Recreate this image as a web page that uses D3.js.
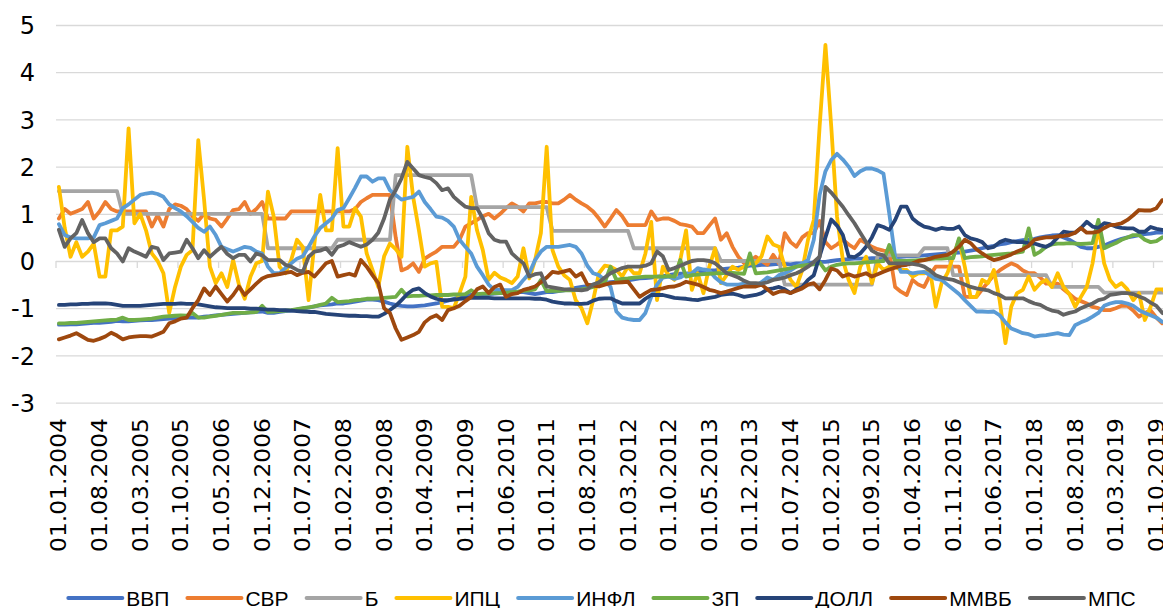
<!DOCTYPE html>
<html lang="ru">
<head>
  <meta charset="UTF-8" />
  <title>Индикаторы</title>
  <script src="https://d3js.org/d3.v7.min.js"></script>
  <style>
    body { margin: 0; background: #fff; }
    svg { display: block; }
  </style>
</head>
<body>
  <svg id="chart" width="1163" height="608"></svg>

  <script>
    // monthly categories 01.01.2004 .. 01.12.2019
    const months = d3.timeMonth.range(new Date(2004, 0, 1), new Date(2020, 0, 1));
    const fmt = d3.timeFormat("%d.%m.%Y");
    const cats = months.map(fmt);
    const labelCats = cats.filter((d, i) => i % 7 === 0);
    const yTicks = [-3, -2, -1, 0, 1, 2, 3, 4, 5];

    const seriesNames = ["ВВП", "СВР", "Б", "ИПЦ", "ИНФЛ", "ЗП", "ДОЛЛ", "ММВБ", "МПС"];
    const seriesColors = ["#4472c4", "#ed7d31", "#a5a5a5", "#ffc000", "#5b9bd5", "#70ad47", "#264478", "#9e480e", "#636363"];

    const vvp = [
      -1.35,-1.35,-1.34,-1.34,-1.33,-1.32,-1.31,-1.31,-1.3,-1.29,-1.27,-1.28,
      -1.28,-1.27,-1.26,-1.25,-1.25,-1.24,-1.23,-1.22,-1.22,-1.21,-1.2,-1.2,
      -1.2,-1.18,-1.17,-1.15,-1.14,-1.13,-1.12,-1.11,-1.1,-1.09,-1.08,-1.07,
      -1.1,-1.1,-1.08,-1.06,-1.05,-1.03,-1.01,-0.99,-0.96,-0.94,-0.93,-0.92,
      -0.9,-0.9,-0.88,-0.86,-0.84,-0.82,-0.82,-0.83,-0.86,-0.9,-0.93,-0.95,
      -0.96,-0.96,-0.95,-0.94,-0.92,-0.9,-0.87,-0.84,-0.8,-0.77,-0.74,-0.72,
      -0.72,-0.7,-0.7,-0.69,-0.68,-0.67,-0.66,-0.66,-0.66,-0.68,-0.7,-0.68,
      -0.66,-0.66,-0.64,-0.62,-0.6,-0.57,-0.55,-0.53,-0.5,-0.49,-0.47,-0.45,
      -0.44,-0.42,-0.41,-0.39,-0.37,-0.36,-0.35,-0.33,-0.32,-0.3,-0.28,-0.27,
      -0.27,-0.25,-0.24,-0.22,-0.2,-0.2,-0.18,-0.16,-0.15,-0.14,-0.12,-0.1,
      -0.1,-0.08,-0.08,-0.07,-0.06,-0.06,-0.07,-0.05,-0.05,-0.04,-0.03,-0.02,
      -0.02,0.0,0.02,0.03,0.04,0.05,0.05,0.05,0.06,0.06,0.07,0.08,
      0.08,0.09,0.1,0.1,0.11,0.12,0.13,0.14,0.15,0.16,0.17,0.18,
      0.2,0.22,0.24,0.27,0.3,0.32,0.35,0.37,0.4,0.42,0.44,0.45,
      0.47,0.5,0.52,0.54,0.55,0.5,0.45,0.38,0.3,0.27,0.27,0.3,
      0.33,0.38,0.43,0.47,0.5,0.52,0.55,0.57,0.58,0.6,0.6,0.62
    ];
    const svr = [
      0.9,1.1,1.0,1.05,1.1,1.25,0.9,1.05,1.25,1.1,1.05,1.05,
      1.05,1.05,1.05,1.05,0.73,0.97,0.73,1.1,1.2,1.17,1.1,0.95,
      0.85,1.0,0.9,0.87,0.73,0.9,1.08,1.1,1.25,1.0,1.1,1.25,
      0.9,0.9,0.9,0.9,1.05,1.05,1.05,1.05,1.05,1.05,1.05,1.05,
      1.05,1.05,1.05,1.1,1.25,1.33,1.4,1.4,1.4,1.4,0.5,-0.2,
      -0.15,-0.05,-0.23,0.05,0.13,0.2,0.3,0.3,0.3,0.45,0.73,0.8,
      0.87,0.95,1.0,0.9,1.0,1.12,1.22,1.15,1.05,1.22,1.22,1.25,
      1.25,1.22,1.22,1.3,1.4,1.3,1.22,1.15,1.05,0.9,0.73,0.9,
      1.08,0.95,0.76,0.76,0.76,0.76,1.05,0.87,0.9,0.9,0.85,0.78,
      0.76,0.73,0.59,0.59,0.75,0.9,0.45,0.59,0.3,0.09,-0.05,0.0,
      0.09,0.0,-0.08,0.13,-0.05,0.59,0.4,0.3,0.5,0.59,0.59,0.85,
      0.4,0.27,0.35,0.45,0.35,0.27,0.45,0.38,0.3,0.25,0.22,0.2,
      -0.55,-0.65,-0.72,-0.4,-0.5,-0.55,-0.3,-0.12,-0.12,-0.12,-0.12,-0.12,
      -0.76,-0.76,-0.76,-0.6,-0.45,-0.3,-0.2,-0.12,-0.05,-0.1,-0.2,-0.26,
      -0.26,-0.35,-0.48,-0.48,-0.48,-0.6,-0.7,-0.8,-0.85,-0.9,-0.97,-1.0,
      -1.04,-1.04,-1.0,-0.95,-0.95,-1.05,-1.18,-1.1,-1.05,-1.2,-1.32,-1.3
    ];
    const b = [
      1.48,1.48,1.48,1.48,1.48,1.48,1.48,1.48,1.48,1.48,1.48,1.0,
      1.0,1.0,1.0,1.0,1.0,1.0,1.0,1.0,1.0,1.0,1.0,1.0,
      1.0,1.0,1.0,1.0,1.0,1.0,1.0,1.0,1.0,1.0,1.0,1.0,
      0.27,0.27,0.27,0.27,0.27,0.27,0.27,0.27,0.27,0.27,0.27,0.27,
      0.45,0.45,0.45,0.45,0.45,0.45,0.45,0.45,0.45,0.45,1.82,1.82,
      1.82,1.82,1.82,1.82,1.82,1.82,1.82,1.82,1.82,1.82,1.82,1.82,
      1.14,1.14,1.14,1.14,1.14,1.14,1.14,1.14,1.14,1.14,1.14,1.14,
      1.14,0.64,0.64,0.64,0.64,0.64,0.64,0.64,0.64,0.64,0.64,0.64,
      0.64,0.64,0.64,0.27,0.27,0.27,0.27,0.27,0.27,0.27,0.27,0.27,
      0.27,0.27,0.27,0.27,0.27,0.27,0.0,0.0,0.0,0.0,0.0,0.0,
      0.0,0.0,0.0,0.0,0.0,-0.5,-0.5,-0.5,-0.5,-0.5,-0.5,-0.5,
      -0.5,-0.5,-0.5,-0.5,-0.5,-0.5,-0.5,-0.5,-0.5,0.12,0.12,0.12,
      0.12,0.12,0.12,0.12,0.12,0.27,0.27,0.27,0.27,0.27,-0.3,-0.3,
      -0.3,-0.3,-0.3,-0.3,-0.3,-0.3,-0.3,-0.3,-0.3,-0.3,-0.3,-0.3,
      -0.3,-0.3,-0.3,-0.55,-0.55,-0.55,-0.55,-0.55,-0.55,-0.55,-0.55,-0.55,
      -0.67,-0.67,-0.67,-0.67,-0.67,-0.67,-0.67,-0.67,-0.67,-0.67,-0.67,-0.67
    ];
    const ipc = [
      1.57,0.7,0.09,0.4,0.09,0.2,0.37,-0.33,-0.33,0.65,0.65,0.73,
      2.81,0.8,1.0,0.65,0.16,0.0,-0.26,-1.1,-0.55,-0.12,0.13,0.23,
      2.56,1.3,-0.12,-0.47,-0.26,-0.55,0.02,-0.5,-0.8,-0.33,-0.05,0.0,
      1.47,0.94,-0.12,-0.26,0.02,0.45,0.3,-0.83,0.37,1.4,0.65,0.65,
      2.39,0.73,0.73,1.12,0.94,0.16,-0.19,-0.55,0.1,0.37,0.25,0.09,
      2.42,1.36,0.65,-0.12,-0.05,-0.02,-0.97,-0.97,-1.0,-0.68,-0.33,1.36,
      0.65,0.23,-0.4,-0.25,-0.35,-0.4,-0.47,-0.33,0.27,-0.37,0.02,0.59,
      2.42,0.23,-0.12,-0.3,-0.4,-0.83,-1.0,-1.32,-0.83,-0.26,-0.1,-0.12,
      -0.19,-0.33,-0.12,-0.26,-0.26,0.16,0.83,-0.83,-0.12,-0.3,-0.4,0.02,
      0.65,-0.61,-0.26,-0.68,-0.12,0.27,-0.47,-0.3,-0.12,-0.19,-0.12,-0.05,
      -0.05,0.1,0.52,0.35,0.3,-0.12,-0.4,-0.55,-0.2,0.45,0.87,2.85,
      4.58,2.85,0.94,0.02,-0.4,-0.68,-0.12,0.09,-0.47,-0.05,-0.19,-0.12,
      -0.12,-0.19,-0.19,-0.33,-0.26,-0.26,-0.19,-0.97,-0.47,-0.26,0.1,0.45,
      -0.12,-0.76,-0.76,-0.4,-0.47,-0.19,-0.83,-1.74,-0.97,-0.68,-0.61,-0.33,
      -0.61,-0.47,-0.4,-0.55,-0.26,-0.55,-0.7,-0.97,-0.76,-0.55,-0.05,0.73,
      -0.05,-0.4,-0.55,-0.47,-0.6,-0.83,-0.68,-1.25,-0.97,-0.6,-0.6,-0.7
    ];
    const infl = [
      0.78,0.55,0.5,0.48,0.48,0.48,0.5,0.76,0.8,0.85,0.9,1.12,
      1.2,1.3,1.4,1.43,1.45,1.42,1.36,1.2,1.12,1.05,0.95,0.83,
      0.7,0.62,0.73,0.55,0.3,0.25,0.2,0.25,0.3,0.28,0.2,0.16,
      -0.12,-0.26,-0.26,-0.15,-0.05,0.05,0.1,0.3,0.52,0.7,0.8,0.9,
      1.08,1.12,1.33,1.55,1.79,1.79,1.68,1.75,1.75,1.5,1.4,1.3,
      1.33,1.36,1.47,1.25,1.1,0.94,0.92,0.85,0.73,0.45,0.3,0.16,
      -0.12,-0.3,-0.5,-0.61,-0.61,-0.62,-0.62,-0.55,-0.4,-0.26,0.02,0.2,
      0.3,0.3,0.3,0.32,0.34,0.3,0.16,-0.1,-0.26,-0.3,-0.4,-0.55,
      -1.07,-1.2,-1.23,-1.25,-1.25,-1.1,-0.76,-0.5,-0.35,-0.33,-0.38,-0.35,
      -0.28,-0.26,-0.15,-0.18,-0.2,-0.35,-0.45,-0.5,-0.5,-0.5,-0.48,-0.48,
      -0.52,-0.45,-0.35,-0.4,-0.3,-0.26,-0.2,-0.12,-0.05,0.02,0.45,1.4,
      1.9,2.14,2.27,2.15,2.0,1.8,1.9,1.96,1.96,1.92,1.85,1.0,
      0.09,-0.23,-0.23,-0.26,-0.24,-0.23,-0.3,-0.38,-0.4,-0.5,-0.6,-0.7,
      -0.83,-0.95,-1.07,-1.07,-1.08,-1.07,-1.15,-1.3,-1.43,-1.48,-1.53,-1.55,
      -1.6,-1.58,-1.57,-1.55,-1.53,-1.56,-1.57,-1.36,-1.3,-1.25,-1.18,-1.1,
      -0.95,-0.9,-0.87,-0.87,-0.9,-0.95,-1.04,-1.1,-1.15,-1.2,-1.29,-1.3
    ];
    const zp = [
      -1.32,-1.32,-1.31,-1.31,-1.3,-1.29,-1.28,-1.27,-1.26,-1.25,-1.24,-1.2,
      -1.25,-1.25,-1.24,-1.23,-1.22,-1.2,-1.18,-1.17,-1.16,-1.15,-1.16,-1.1,
      -1.2,-1.2,-1.18,-1.16,-1.14,-1.12,-1.1,-1.1,-1.1,-1.09,-1.08,-0.95,
      -1.08,-1.07,-1.06,-1.05,-1.04,-1.02,-1.0,-0.98,-0.96,-0.93,-0.9,-0.78,
      -0.87,-0.86,-0.85,-0.83,-0.82,-0.8,-0.8,-0.79,-0.78,-0.77,-0.76,-0.61,
      -0.75,-0.74,-0.74,-0.73,-0.73,-0.72,-0.72,-0.72,-0.71,-0.71,-0.7,-0.62,
      -0.7,-0.69,-0.69,-0.68,-0.68,-0.67,-0.66,-0.65,-0.63,-0.62,-0.6,-0.4,
      -0.64,-0.63,-0.63,-0.62,-0.62,-0.61,-0.6,-0.58,-0.55,-0.5,-0.45,-0.12,
      -0.4,-0.38,-0.37,-0.35,-0.34,-0.33,-0.33,-0.33,-0.33,-0.32,-0.33,0.02,
      -0.33,-0.3,-0.29,-0.28,-0.27,-0.26,-0.26,-0.25,-0.25,-0.26,-0.27,0.16,
      -0.26,-0.25,-0.24,-0.22,-0.2,-0.18,-0.15,-0.12,-0.1,-0.08,-0.07,-0.03,
      -0.2,-0.12,-0.08,-0.06,-0.05,-0.05,-0.04,-0.03,-0.02,-0.01,0.0,0.34,
      0.0,0.0,0.0,0.01,0.02,0.03,0.04,0.05,0.05,0.06,0.06,0.48,
      0.06,0.08,0.09,0.1,0.12,0.13,0.14,0.15,0.16,0.18,0.2,0.69,
      0.13,0.2,0.3,0.35,0.37,0.37,0.38,0.37,0.36,0.37,0.38,0.87,
      0.27,0.33,0.38,0.45,0.5,0.55,0.55,0.45,0.4,0.42,0.5,0.52
    ];
    const doll = [
      -0.93,-0.93,-0.92,-0.92,-0.91,-0.91,-0.9,-0.9,-0.9,-0.91,-0.93,-0.95,
      -0.95,-0.95,-0.95,-0.94,-0.93,-0.92,-0.91,-0.91,-0.91,-0.9,-0.91,-0.91,
      -0.92,-0.94,-0.96,-0.98,-0.99,-1.0,-1.0,-1.0,-1.0,-1.01,-1.01,-1.02,
      -1.03,-1.03,-1.04,-1.04,-1.05,-1.06,-1.07,-1.08,-1.08,-1.1,-1.12,-1.13,
      -1.14,-1.15,-1.16,-1.16,-1.17,-1.17,-1.18,-1.18,-1.12,-1.04,-0.95,-0.83,
      -0.7,-0.61,-0.58,-0.68,-0.75,-0.8,-0.83,-0.83,-0.82,-0.8,-0.79,-0.78,
      -0.78,-0.78,-0.78,-0.79,-0.79,-0.79,-0.79,-0.79,-0.79,-0.79,-0.8,-0.8,
      -0.82,-0.86,-0.88,-0.9,-0.9,-0.91,-0.91,-0.9,-0.84,-0.8,-0.79,-0.79,
      -0.85,-0.9,-0.9,-0.9,-0.9,-0.8,-0.72,-0.72,-0.72,-0.75,-0.78,-0.79,
      -0.8,-0.82,-0.83,-0.8,-0.78,-0.76,-0.72,-0.7,-0.69,-0.72,-0.76,-0.74,
      -0.72,-0.68,-0.6,-0.58,-0.55,-0.6,-0.68,-0.6,-0.55,-0.4,-0.3,0.1,
      0.5,0.88,0.75,0.55,0.1,0.08,0.16,0.3,0.5,0.76,0.72,0.66,
      0.87,1.15,1.15,0.9,0.8,0.73,0.7,0.66,0.7,0.68,0.68,0.73,
      0.55,0.48,0.45,0.4,0.27,0.3,0.4,0.45,0.42,0.4,0.4,0.38,
      0.37,0.33,0.3,0.37,0.5,0.62,0.6,0.6,0.7,0.83,0.73,0.7,
      0.8,0.78,0.73,0.7,0.69,0.69,0.62,0.62,0.72,0.68,0.66,0.66
    ];
    const mmvb = [
      -1.66,-1.62,-1.58,-1.53,-1.6,-1.67,-1.69,-1.65,-1.6,-1.52,-1.58,-1.66,
      -1.62,-1.6,-1.59,-1.59,-1.6,-1.55,-1.5,-1.32,-1.28,-1.22,-1.2,-1.0,
      -0.83,-0.58,-0.72,-0.54,-0.7,-0.86,-0.72,-0.54,-0.72,-0.6,-0.48,-0.37,
      -0.32,-0.3,-0.28,-0.25,-0.23,-0.3,-0.25,-0.23,-0.33,-0.19,-0.05,0.0,
      -0.33,-0.3,-0.27,-0.31,0.02,-0.12,-0.3,-0.47,-1.0,-1.1,-1.43,-1.67,
      -1.62,-1.57,-1.5,-1.3,-1.2,-1.15,-1.25,-1.04,-1.0,-0.95,-0.85,-0.76,
      -0.6,-0.54,-0.68,-0.55,-0.5,-0.76,-0.7,-0.68,-0.61,-0.58,-0.54,-0.45,
      -0.35,-0.23,-0.25,-0.22,-0.19,-0.33,-0.26,-0.5,-0.52,-0.54,-0.5,-0.47,
      -0.46,-0.45,-0.44,-0.6,-0.76,-0.68,-0.61,-0.6,-0.58,-0.55,-0.54,-0.5,
      -0.44,-0.47,-0.5,-0.55,-0.61,-0.64,-0.68,-0.65,-0.61,-0.57,-0.54,-0.54,
      -0.54,-0.5,-0.6,-0.7,-0.65,-0.64,-0.68,-0.63,-0.58,-0.5,-0.47,-0.6,
      -0.4,-0.16,-0.2,-0.33,-0.28,-0.33,-0.3,-0.26,-0.33,-0.28,-0.23,-0.18,
      -0.14,-0.1,-0.08,-0.05,0.0,0.02,0.05,0.09,0.11,0.13,0.2,0.3,
      0.45,0.38,0.25,0.16,0.08,0.02,0.05,0.09,0.14,0.2,0.25,0.32,
      0.45,0.48,0.5,0.5,0.52,0.53,0.55,0.6,0.7,0.6,0.6,0.62,
      0.7,0.76,0.77,0.8,0.87,0.97,1.08,1.07,1.07,1.12,1.29,1.3
    ];
    const mps = [
      0.66,0.3,0.48,0.59,0.87,0.59,0.4,0.48,0.48,0.27,0.16,-0.01,
      0.27,0.2,0.15,0.09,0.3,0.27,0.02,0.16,0.18,0.2,0.45,0.27,
      0.06,0.23,0.09,0.2,0.3,0.15,0.06,0.13,0.13,-0.01,0.16,0.12,
      0.02,0.02,0.02,-0.08,-0.12,-0.19,-0.23,0.09,0.2,0.22,0.27,0.13,
      0.3,0.34,0.4,0.35,0.3,0.35,0.45,0.6,0.9,1.3,1.5,1.75,
      2.1,1.96,1.82,1.78,1.75,1.65,1.5,1.54,1.36,1.25,1.15,1.12,
      1.12,0.9,0.59,0.45,0.41,0.41,0.16,0.05,-0.05,-0.33,-0.28,-0.26,
      -0.54,-0.56,-0.58,-0.6,-0.6,-0.61,-0.62,-0.6,-0.5,-0.45,-0.35,-0.26,
      -0.2,-0.15,-0.12,-0.12,-0.12,-0.1,-0.05,0.2,0.1,-0.19,-0.15,-0.1,
      -0.05,0.0,0.02,0.02,0.0,-0.05,-0.15,-0.26,-0.3,-0.35,-0.42,-0.47,
      -0.47,-0.48,-0.45,-0.4,-0.38,-0.35,-0.3,-0.26,-0.2,-0.12,-0.02,0.09,
      1.57,1.45,1.3,1.15,0.97,0.8,0.6,0.4,0.22,0.15,0.12,-0.05,
      -0.05,-0.05,-0.05,-0.06,-0.08,-0.12,-0.2,-0.3,-0.35,-0.38,-0.4,-0.45,
      -0.5,-0.55,-0.58,-0.6,-0.62,-0.68,-0.72,-0.79,-0.79,-0.79,-0.79,-0.85,
      -0.9,-0.93,-1.0,-1.05,-1.07,-1.14,-1.1,-1.07,-1.0,-0.95,-0.9,-0.83,
      -0.8,-0.72,-0.7,-0.68,-0.68,-0.7,-0.75,-0.8,-0.88,-0.95,-1.1,-1.15
    ];

    const seriesValues = [vvp, svr, b, ipc, infl, zp, doll, mmvb, mps];

    const svg = d3.select("#chart");
    const width = +svg.attr("width");
    const left = 56, step = 5.807;

    svg.append("rect").attr("width", width).attr("height", 608).attr("fill", "#fff");

    const x = d3.scaleBand().domain(cats).range([left, left + cats.length * step]);
    const cx = d => x(d) + x.bandwidth() / 2;
    const y = d3.scaleLinear().domain([-3, 5]).range([402.6, 25]);

    // gridlines + y labels (plain hyphen for negatives, as in the source)
    const yAxis = svg.append("g")
      .attr("transform", `translate(${left},0)`)
      .call(d3.axisLeft(y).tickValues(yTicks).tickSize(-(width - left)).tickPadding(21).tickFormat(d => String(d)));
    yAxis.select(".domain").remove();
    yAxis.selectAll("line").attr("stroke", "#d9d9d9").attr("stroke-width", 1.3);
    yAxis.selectAll("text")
      .attr("font-family", "'DejaVu Sans', sans-serif")
      .attr("font-size", 24)
      .attr("fill", "#000")
      .attr("dy", "0.36em");

    // tick marks on the zero line, every 7 months
    svg.append("g").selectAll("line")
      .data(labelCats)
      .join("line")
      .attr("x1", d => x(d)).attr("x2", d => x(d))
      .attr("y1", y(0)).attr("y2", y(0) + 7)
      .attr("stroke", "#d9d9d9").attr("stroke-width", 1.3);

    // category labels
    const xAxis = svg.append("g")
      .attr("transform", "translate(0,418)")
      .call(d3.axisBottom(x).tickValues(labelCats).tickSize(0).tickPadding(0));
    xAxis.select(".domain").remove();
    xAxis.selectAll("text")
      .attr("transform", "rotate(-90)")
      .attr("x", 0).attr("y", 0).attr("dy", "0.36em")
      .attr("text-anchor", "end")
      .attr("font-family", "'DejaVu Sans', sans-serif")
      .attr("font-size", 21)
      .attr("fill", "#000")
      .attr("textLength", 134)
      .attr("lengthAdjust", "spacingAndGlyphs");

    // lines
    const line = d3.line()
      .x((v, i) => cx(cats[i]))
      .y(v => y(v));

    svg.append("g").selectAll("path")
      .data(seriesValues)
      .join("path")
      .attr("fill", "none")
      .attr("stroke", (d, i) => seriesColors[i])
      .attr("stroke-width", 3.8)
      .attr("stroke-linejoin", "round")
      .attr("stroke-linecap", "round")
      .attr("d", line);

    // legend
    const legend = svg.append("g").attr("transform", "translate(0,598)");
    let cursor = 0;
    seriesNames.forEach((name, i) => {
      const g = legend.append("g");
      g.append("line")
        .attr("x1", 2).attr("x2", 56).attr("y1", 0).attr("y2", 0)
        .attr("stroke", seriesColors[i]).attr("stroke-width", 4).attr("stroke-linecap", "round");
      const t = g.append("text")
        .attr("x", 60).attr("y", 7.5)
        .attr("font-family", "'Liberation Sans', Arial, sans-serif")
        .attr("font-size", 21)
        .attr("fill", "#000")
        .text(name);
      g.attr("transform", `translate(${cursor},0)`);
      cursor += 60 + t.node().getComputedTextLength() + 16;
    });
    const total = cursor - 16;
    legend.attr("transform", `translate(${(64 + 1138) / 2 - total / 2},598)`);
  </script>
</body>
</html>
